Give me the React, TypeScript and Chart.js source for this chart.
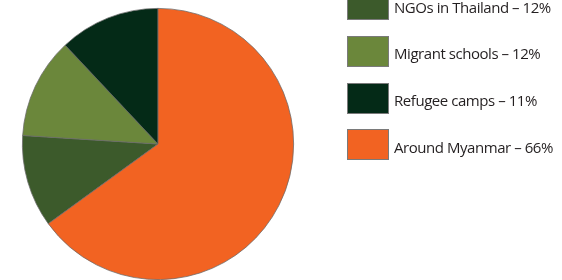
import React, { useEffect, useRef } from "react";
import { Chart, registerables } from "chart.js";

Chart.register(...registerables);

const labels = ["NGOs in Thailand", "Migrant schools", "Refugee camps", "Around Myanmar"];
// percentages printed in the legend
const legendPercents = [12, 12, 11, 66];
// slice sizes as drawn in the picture
const values = [11, 12, 12, 65];
const colors = ["#3C5A2B", "#6B873B", "#042A17", "#F26322"];

const total = values.reduce((a, b) => a + b, 0);
// start the last slice (Around Myanmar) at 12 o'clock
const rotation = (360 * values[values.length - 1]) / total;

export default function App() {
  const canvasRef = useRef<HTMLCanvasElement | null>(null);

  useEffect(() => {
    if (!canvasRef.current) return;
    const chart = new Chart(canvasRef.current, {
      type: "pie",
      data: {
        labels,
        datasets: [
          {
            data: values,
            backgroundColor: colors,
            borderColor: "#6a6a6a",
            borderWidth: 0.75,
          },
        ],
      },
      options: {
        responsive: false,
        animation: false,
        rotation,
        layout: { padding: { left: 22, right: 268, top: 8, bottom: 0 } },
        plugins: {
          legend: { display: false },
          tooltip: { enabled: false },
        },
      },
    });
    return () => chart.destroy();
  }, []);

  const top0 = -10.6;
  const step = 46.55;

  return (
    <div
      style={{
        position: "absolute",
        left: 0,
        top: 0,
        width: 562,
        height: 280,
        overflow: "hidden",
        background: "#ffffff",
      }}
    >
      <canvas ref={canvasRef} width={562} height={280} style={{ position: "absolute", left: 0, top: 0 }} />
      {labels.map((l, i) => (
        <React.Fragment key={l}>
          <div
            style={{
              position: "absolute",
              left: 347,
              top: top0 + i * step,
              width: 42,
              height: 31,
              boxSizing: "border-box",
              border: "1px solid #7a7a7a",
              background: colors[i],
            }}
          />
          <div
            style={{
              position: "absolute",
              left: 394,
              top: top0 + i * step + 7.5,
              fontFamily: "'Open Sans', sans-serif",
              fontSize: 15,
              lineHeight: "20px",
              letterSpacing: "-0.45px",
              color: "#231f20",
              whiteSpace: "nowrap",
            }}
          >
            {`${l} – ${legendPercents[i]}%`}
          </div>
        </React.Fragment>
      ))}
    </div>
  );
}
